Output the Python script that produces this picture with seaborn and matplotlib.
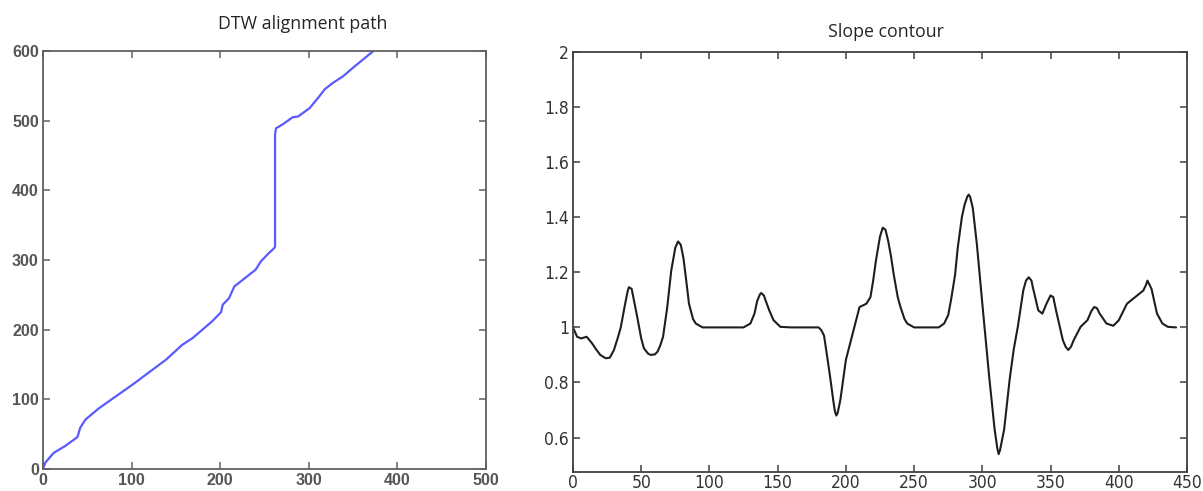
import numpy as np
import pandas as pd
import seaborn as sns
import matplotlib.pyplot as plt

# =========================================================
# DATA
# =========================================================

path_x = [0, 2.6, 12, 25, 37, 39, 42, 48, 63, 101, 139, 157, 169, 191, 201,
          203, 210, 216, 225, 240, 246, 255, 261, 262, 262, 263, 271, 282,
          288, 301, 312, 318, 327, 339, 350, 373]
path_y = [0, 9, 23, 33, 44, 46, 59, 71, 87, 121, 157, 178, 188, 212, 225,
          236, 245, 262, 271, 286, 298, 310, 317, 319, 480, 489, 495, 505,
          506, 518, 535, 545, 554, 564, 576, 600]

slope_x = [0, 3, 6, 10, 14, 17, 20, 24, 27, 30, 33, 35, 38, 40, 41, 43, 45,
           47, 50, 52, 55, 57, 60, 62, 64, 66, 69, 72, 75, 77, 79, 81, 83,
           85, 88, 90, 95, 100, 125, 130, 133, 135, 137, 138, 140, 141, 144,
           147, 152, 160, 180, 182, 184, 187, 189, 191, 192, 193, 194, 196,
           198, 200, 205, 210, 215, 218, 220, 222, 225, 227, 229, 231, 233,
           235, 238, 240, 243, 245, 250, 268, 272, 275, 277, 280, 282, 285,
           287, 289, 290, 291, 293, 296, 300, 305, 309, 311, 312, 313, 316,
           320, 323, 326, 330, 332, 334, 336, 337, 341, 344, 347, 350, 352,
           354, 359, 361, 363, 365, 367, 372, 377, 380, 382, 384, 386, 391,
           396, 400, 406, 412, 418, 420, 421, 422, 424, 428, 432, 436, 442]
slope_y = [1.0, 0.966, 0.96, 0.966, 0.942, 0.92, 0.90, 0.888, 0.89, 0.918,
           0.965, 1.0, 1.08, 1.13, 1.146, 1.14, 1.09, 1.04, 0.96, 0.924,
           0.905, 0.90, 0.902, 0.912, 0.935, 0.966, 1.07, 1.206, 1.29, 1.312,
           1.30, 1.25, 1.17, 1.086, 1.03, 1.014, 1.0, 1.0, 1.0, 1.014, 1.05,
           1.096, 1.12, 1.125, 1.115, 1.10, 1.06, 1.026, 1.002, 1.0, 1.0,
           0.99, 0.97, 0.87, 0.8, 0.726, 0.695, 0.68, 0.69, 0.738, 0.81,
           0.882, 0.978, 1.074, 1.086, 1.11, 1.17, 1.242, 1.33, 1.362, 1.355,
           1.314, 1.26, 1.194, 1.11, 1.074, 1.03, 1.014, 1.0, 1.0, 1.014,
           1.045, 1.098, 1.19, 1.29, 1.40, 1.446, 1.475, 1.482, 1.475, 1.434,
           1.302, 1.086, 0.822, 0.63, 0.56, 0.54, 0.555, 0.63, 0.81, 0.92,
           1.002, 1.134, 1.17, 1.182, 1.17, 1.146, 1.062, 1.05, 1.086, 1.116,
           1.11, 1.062, 0.954, 0.93, 0.918, 0.93, 0.954, 1.002, 1.026, 1.06,
           1.074, 1.07, 1.05, 1.014, 1.006, 1.026, 1.086, 1.11, 1.134, 1.155,
           1.17, 1.16, 1.14, 1.05, 1.014, 1.002, 1.0]

left_xticks = [0, 100, 200, 300, 400, 500]
left_yticks = [0, 100, 200, 300, 400, 500, 600]
right_xticks = [0, 50, 100, 150, 200, 250, 300, 350, 400, 450]
right_yticks = [0.6, 0.8, 1.0, 1.2, 1.4, 1.6, 1.8, 2.0]
right_ylabels = ["0.6", "0.8", "1", "1.2", "1.4", "1.6", "1.8", "2"]

path_df = pd.DataFrame({"x": path_x, "y": path_y})
slope_df = pd.DataFrame({"x": slope_x, "y": slope_y})

# =========================================================
# STYLE
# =========================================================

sns.set_style("ticks")
plt.rcParams["font.family"] = ["Liberation Sans", "DejaVu Sans"]

fig = plt.figure(figsize=(12.03, 4.91), dpi=100)

ax1 = fig.add_axes([0.0357, 0.0448, 0.3682, 0.8513])
ax2 = fig.add_axes([0.4763, 0.0387, 0.5104, 0.8554])


def matlab_box(ax, color):
    for side in ["top", "bottom", "left", "right"]:
        ax.spines[side].set_visible(True)
        ax.spines[side].set_color(color)
        ax.spines[side].set_linewidth(1.3)
    ax.tick_params(
        direction="in",
        top=True,
        right=True,
        length=5,
        width=1.1,
        color=color,
        pad=3
    )


# =========================================================
# DTW ALIGNMENT PATH
# =========================================================

sns.lineplot(
    data=path_df,
    x="x",
    y="y",
    sort=False,
    estimator=None,
    color="#5a5aff",
    linewidth=1.6,
    ax=ax1
)

ax1.set_xlim(0, 500)
ax1.set_ylim(0, 600)
ax1.set_xticks(left_xticks)
ax1.set_yticks(left_yticks)
ax1.set_xlabel("")
ax1.set_ylabel("")
matlab_box(ax1, "#606060")

for lab in ax1.get_xticklabels() + ax1.get_yticklabels():
    lab.set_fontsize(11.5)
    lab.set_fontweight("bold")
    lab.set_color("#555555")

# =========================================================
# SLOPE CONTOUR
# =========================================================

sns.lineplot(
    data=slope_df,
    x="x",
    y="y",
    sort=False,
    estimator=None,
    color="#1e1e1e",
    linewidth=1.5,
    ax=ax2
)

ax2.set_xlim(0, 450)
ax2.set_ylim(0.475, 2.0)
ax2.set_xticks(right_xticks)
ax2.set_yticks(right_yticks)
ax2.set_yticklabels(right_ylabels)
ax2.set_xlabel("")
ax2.set_ylabel("")
matlab_box(ax2, "#404040")
ax2.tick_params(axis="x", pad=1.5)

for lab in ax2.get_xticklabels() + ax2.get_yticklabels():
    lab.set_fontsize(12.5)
    lab.set_family("DejaVu Sans")
    lab.set_fontstretch("condensed")
    lab.set_color("#333333")

# =========================================================
# TITLES
# =========================================================

fig.text(0.252, 0.952, "DTW alignment path", ha="center", va="center",
         fontsize=12.8, family=["Open Sans", "DejaVu Sans"])
fig.text(0.7365, 0.935, "Slope contour", ha="center", va="center",
         fontsize=12.8, family=["Open Sans", "DejaVu Sans"])

fig.savefig("out.png", dpi=100)
